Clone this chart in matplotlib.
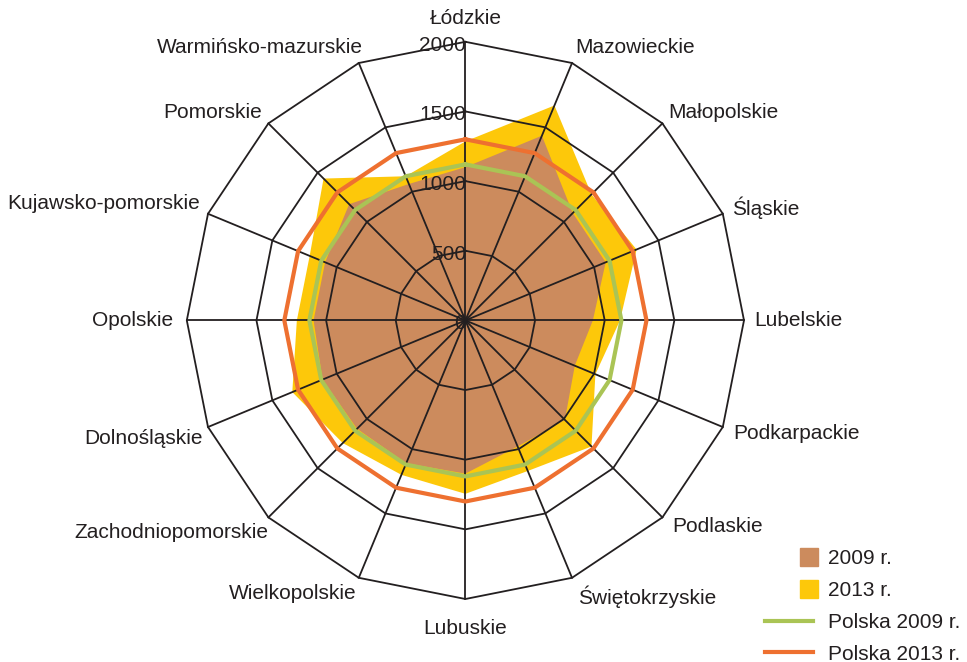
import numpy as np
import matplotlib
matplotlib.use("Agg")
import matplotlib.pyplot as plt
from matplotlib.patches import Rectangle, Patch
from matplotlib.lines import Line2D
from matplotlib.legend_handler import HandlerPatch

plt.rcParams['font.family'] = ['Liberation Sans', 'DejaVu Sans']

categories = ["Łódzkie", "Mazowieckie", "Małopolskie", "Śląskie", "Lubelskie",
              "Podkarpackie", "Podlaskie", "Świętokrzyskie", "Lubuskie",
              "Wielkopolskie", "Zachodniopomorskie", "Dolnośląskie", "Opolskie",
              "Kujawsko-pomorskie", "Pomorskie", "Warmińsko-mazurskie"]
values_2009 = [1100, 1435, 1090, 1090, 915, 850, 1010, 980, 1100,
               1110, 1100, 1110, 1090, 1090, 1180, 1060]
values_2013 = [1285, 1670, 1280, 1330, 1110, 1010, 1280, 1170, 1245,
               1200, 1245, 1345, 1210, 1210, 1440, 1120]
polska_2009 = 1120
polska_2013 = 1300
r_ticks = [0, 500, 1000, 1500, 2000]
legend_labels = ["2009 r.", "2013 r.", "Polska 2009 r.", "Polska 2013 r."]

# label offsets in pixels (dx, dy) from the outer vertex, with alignment
label_style = [
    (0, 23, 'center'), (3, 16, 'left'), (6, 11, 'left'), (9, 6, 'left'),
    (10, 0, 'left'), (10, -6, 'left'), (10, -9, 'left'), (6, -19, 'left'),
    (0, -29, 'center'), (-2, -16, 'right'), (0, -15, 'right'), (-5, -11, 'right'),
    (-14, 0, 'right'), (-8, 10, 'right'), (-6, 11, 'right'), (4, 16, 'right'),
]

C_BROWN = '#CC8B5D'
C_YELLOW = '#FDC80A'
C_GREEN = '#AAC455'
C_ORANGE = '#EE7030'
C_GRID = '#231F20'
C_TEXT = '#231F20'
FS = 15

W, H = 967, 662
fig = plt.figure(figsize=(W / 100, H / 100), dpi=100)
cx, cy, R = 465.4, 320.4, 278.6
ax = fig.add_axes([(cx - R) / W, (H - cy - R) / H, 2 * R / W, 2 * R / H],
                  projection='polar')
ax.set_theta_zero_location('N')
ax.set_theta_direction(-1)
ax.set_ylim(0, 2000)
ax.grid(False)
ax.set_xticks([])
ax.set_yticks([])
ax.spines['polar'].set_visible(False)

n = len(categories)
angles = np.arange(n) * 2 * np.pi / n
ang_c = np.append(angles, angles[0])

def closed(v):
    return np.append(v, v[0])

ax.fill(ang_c, closed(values_2013), color=C_YELLOW, lw=0, zorder=1)
ax.fill(ang_c, closed(values_2009), color=C_BROWN, lw=0, zorder=1.5)

for r in r_ticks[1:]:
    ax.plot(ang_c, [r] * (n + 1), color=C_GRID, lw=1.3, zorder=2, clip_on=False)
for a in angles:
    ax.plot([a, a], [0, 2000], color=C_GRID, lw=1.3, zorder=2, clip_on=False)

ax.plot(ang_c, [polska_2009] * (n + 1), color=C_GREEN, lw=3, zorder=3)
ax.plot(ang_c, [polska_2013] * (n + 1), color=C_ORANGE, lw=3, zorder=3)

for r in r_ticks:
    ax.annotate(str(r), xy=(0, r), xytext=(0.5, -2.5), textcoords='offset points',
                ha='right', va='center', fontsize=FS, color=C_TEXT, zorder=4,
                annotation_clip=False)

for a, lab, (dx, dy, ha) in zip(angles, categories, label_style):
    ax.annotate(lab, xy=(a, 2000), xytext=(dx * 0.72, dy * 0.72),
                textcoords='offset points', ha=ha, va='center', fontsize=FS,
                color=C_TEXT, annotation_clip=False)

SQ = 13

def square_right(legend, orig_handle, xdescent, ydescent, width, height, fontsize):
    return Rectangle((-xdescent + width - SQ + 4, -ydescent + height / 2 - SQ / 2), SQ, SQ)

handles = [Patch(color=C_BROWN), Patch(color=C_YELLOW),
           Line2D([], [], color=C_GREEN, lw=3), Line2D([], [], color=C_ORANGE, lw=3)]
leg = fig.legend(handles, legend_labels, loc='upper left',
                 bbox_to_anchor=(765 / W, 1 - 549 / H), frameon=False,
                 fontsize=FS, handlelength=2.3, handletextpad=0.7,
                 labelspacing=0.62, borderpad=0, borderaxespad=0,
                 handler_map={Patch: HandlerPatch(patch_func=square_right)})
for t in leg.get_texts():
    t.set_color(C_TEXT)

fig.savefig('out.png', dpi=100)
